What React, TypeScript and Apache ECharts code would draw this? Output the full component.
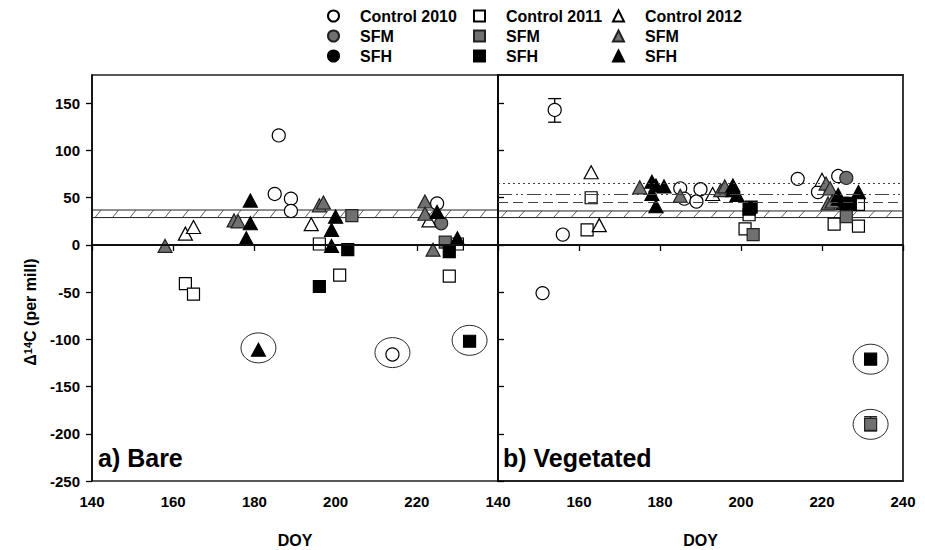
import React, { useEffect, useRef } from 'react';
import * as echarts from 'echarts';

// ---------- axis ticks ----------
const yTicks = [-250, -200, -150, -100, -50, 0, 50, 100, 150];
const xTicksBare = [140, 160, 180, 200, 220];
const xTicksVeg = [140, 160, 180, 200, 220, 240];

// ---------- a) Bare : [DOY, Δ14C] ----------
const bareControl2010 = [[186, 116], [185, 54], [189, 49], [189, 36], [225, 44], [214, -116]];
const bareSFM2010 = [[226, 23]];
const bareSFH2010: number[][] = [];
const bareControl2011 = [[163, -41], [165, -52], [196, 1], [201, -32], [228, -33], [230, 1]];
const bareSFM2011 = [[204, 31], [227, 3]];
const bareSFH2011 = [[196, -44], [203, -5], [228, -7], [233, -102]];
const bareControl2012 = [[163, 12], [165, 19], [194, 22], [223, 26]];
const bareSFM2012 = [[158, -1], [175, 26], [176, 25], [196, 42], [197, 45], [222, 46], [222, 33], [224, -5]];
const bareSFH2012 = [[179, 47], [179, 23], [178, 7], [200, 30], [199, 16], [199, -1], [225, 35], [230, 7], [181, -111]];

// ---------- b) Vegetated ----------
const vegControl2010 = [[154, 143], [156, 11], [151, -51], [185, 60], [186, 49], [189, 46], [190, 59], [214, 70], [219, 56], [224, 73]];
const vegSFM2010 = [[226, 71]];
const vegSFH2010: number[][] = [];
const vegControl2011 = [[163, 50], [162, 16], [202, 32], [201, 17], [223, 22], [229, 43], [229, 20]];
const vegSFM2011 = [[203, 11], [226, 30], [232, -190]];
const vegSFH2011 = [[202.5, 40], [202, 38], [225, 44], [227, 44], [232, -121]];
const vegControl2012 = [[163, 77], [165, 21], [193, 54], [220, 69]];
const vegSFM2012 = [[175, 61], [185, 52], [195, 58], [196, 62], [221, 65], [222, 60], [221.5, 44], [222.5, 46]];
const vegSFH2012 = [[178, 67], [179, 63], [181, 62], [178, 54], [179, 41], [198, 63], [198, 58], [199, 53], [224, 53], [224, 49], [229, 56]];

// error bars [DOY, low, high]
const vegErrorBars = [[154, 130, 155], [232, -197, -182], [232, -125, -118]];
// circled outliers
const bareCircled = [[181, -109], [214, -114], [233, -101]];
const vegCircled = [[232, -121], [232, -190]];
// hatched reference bands [low, high]
const bareBand = [[29, 37]];
const vegBand = [[29, 36]];
// reference lines in vegetated panel: dotted, dash-dot-dot, dashed
const vegRefLines = [65, 54, 45];

const FONT = 'Arial, "Liberation Sans", Helvetica, sans-serif';
const WHITE = '#ffffff';
const GRAY = '#707070';
const BLACK = '#000000';

const cats = [
  { name: 'Control 2010', symbol: 'circle', fill: WHITE, bare: bareControl2010, veg: vegControl2010, legend: 0 },
  { name: 'SFM 2010', symbol: 'circle', fill: GRAY, bare: bareSFM2010, veg: vegSFM2010, legend: 0 },
  { name: 'SFH 2010', symbol: 'circle', fill: BLACK, bare: bareSFH2010, veg: vegSFH2010, legend: 0 },
  { name: 'Control 2011', symbol: 'rect', fill: WHITE, bare: bareControl2011, veg: vegControl2011, legend: 1 },
  { name: 'SFM 2011', symbol: 'rect', fill: GRAY, bare: bareSFM2011, veg: vegSFM2011, legend: 1 },
  { name: 'SFH 2011', symbol: 'rect', fill: BLACK, bare: bareSFH2011, veg: vegSFH2011, legend: 1 },
  { name: 'Control 2012', symbol: 'triangle', fill: WHITE, bare: bareControl2012, veg: vegControl2012, legend: 2 },
  { name: 'SFM 2012', symbol: 'triangle', fill: GRAY, bare: bareSFM2012, veg: vegSFM2012, legend: 2 },
  { name: 'SFH 2012', symbol: 'triangle', fill: BLACK, bare: bareSFH2012, veg: vegSFH2012, legend: 2 },
];

function symSize(s: string): number | number[] {
  if (s === 'circle') return 13;
  if (s === 'rect') return 12;
  return [14, 13];
}

function bandSeries(gridIdx: number, band: number[][]) {
  return {
    type: 'custom',
    xAxisIndex: gridIdx,
    yAxisIndex: gridIdx,
    silent: true,
    z: 1,
    data: band,
    renderItem: (params: any, api: any) => {
      const lo = api.value(0);
      const hi = api.value(1);
      const pTL = api.coord([140, hi]);
      const pBR = api.coord([240, lo]);
      const x0 = pTL[0] + 1, x1 = pBR[0] - 1;
      const yT = pTL[1], yB = pBR[1];
      const children: any[] = [
        { type: 'line', shape: { x1: x0, y1: yT, x2: x1, y2: yT }, style: { stroke: '#222', lineWidth: 1 } },
        { type: 'line', shape: { x1: x0, y1: yB, x2: x1, y2: yB }, style: { stroke: '#222', lineWidth: 1 } },
      ];
      for (let x = x0 + 2; x + 6 <= x1; x += 17.5) {
        children.push({ type: 'line', shape: { x1: x, y1: yB, x2: x + 6, y2: yT }, style: { stroke: '#333', lineWidth: 0.8 } });
      }
      return { type: 'group', children };
    },
  };
}

function ellipseSeries(gridIdx: number, pts: number[][]) {
  return {
    type: 'custom',
    xAxisIndex: gridIdx,
    yAxisIndex: gridIdx,
    silent: true,
    z: 2,
    data: pts,
    renderItem: (params: any, api: any) => {
      const p = api.coord([api.value(0), api.value(1)]);
      return { type: 'ellipse', shape: { cx: p[0], cy: p[1], rx: 17.5, ry: 15 }, style: { fill: 'none', stroke: '#111', lineWidth: 0.9 } };
    },
  };
}

function errorSeries(gridIdx: number, bars: number[][]) {
  return {
    type: 'custom',
    xAxisIndex: gridIdx,
    yAxisIndex: gridIdx,
    silent: true,
    z: 2,
    data: bars,
    renderItem: (params: any, api: any) => {
      const x = api.value(0);
      const lo = api.coord([x, api.value(1)]);
      const hi = api.coord([x, api.value(2)]);
      const st = { stroke: '#000', lineWidth: 1.3 };
      return {
        type: 'group',
        children: [
          { type: 'line', shape: { x1: lo[0], y1: lo[1], x2: hi[0], y2: hi[1] }, style: st },
          { type: 'line', shape: { x1: lo[0] - 6.5, y1: lo[1], x2: lo[0] + 6.5, y2: lo[1] }, style: st },
          { type: 'line', shape: { x1: hi[0] - 6.5, y1: hi[1], x2: hi[0] + 6.5, y2: hi[1] }, style: st },
        ],
      };
    },
  };
}

const axisLineStyle = { color: '#000', width: 1.5 };
const tickLabelStyle = { color: '#000', fontFamily: FONT, fontWeight: 'bold' as const, fontSize: 15 };

function buildOption() {
  const series: any[] = [];
  series.push(bandSeries(0, bareBand));
  series.push(bandSeries(1, vegBand));
  series.push(ellipseSeries(0, bareCircled));
  series.push(ellipseSeries(1, vegCircled));
  series.push(errorSeries(1, vegErrorBars));
  // zero lines
  [0, 1].forEach((g) => {
    series.push({
      type: 'line',
      xAxisIndex: g,
      yAxisIndex: g,
      data: [],
      silent: true,
      markLine: {
        silent: true,
        symbol: 'none',
        label: { show: false },
        lineStyle: { color: '#111', width: 2, type: 'solid' },
        data: [{ yAxis: 0 }],
      },
    });
  });
  // vegetated reference lines
  const refTypes: any[] = [[2, 3], [14, 4, 2, 3, 2, 4], [10, 5]];
  series.push({
    type: 'line',
    xAxisIndex: 1,
    yAxisIndex: 1,
    data: [],
    silent: true,
    markLine: {
      silent: true,
      symbol: 'none',
      label: { show: false },
      data: vegRefLines.map((v, i) => ({ yAxis: v, lineStyle: { color: '#444', width: 1, type: refTypes[i] } })),
    },
  });

  cats.forEach((c) => {
    [0, 1].forEach((g) => {
      series.push({
        name: c.name,
        type: 'scatter',
        xAxisIndex: g,
        yAxisIndex: g,
        symbol: c.symbol,
        symbolSize: symSize(c.symbol),
        z: 3,
        itemStyle: { color: c.fill, borderColor: c.fill === GRAY ? '#222' : '#000', borderWidth: 1.2, opacity: 1 },
        data: g === 0 ? c.bare : c.veg,
      });
    });
  });

  const legendLefts = [322, 468, 607];
  const legends = [0, 1, 2].map((li) => ({
    orient: 'vertical',
    left: legendLefts[li],
    top: 3,
    itemWidth: 11,
    itemHeight: 11,
    itemGap: 4,
    selectedMode: false,
    data: cats.filter((c) => c.legend === li).map((c) => c.name),
    formatter: (n: string) => (n.startsWith('Control') ? n : n.split(' ')[0]),
    textStyle: { color: '#000', fontFamily: FONT, fontWeight: 'bold', fontSize: 16, padding: [0, 0, 0, 16] },
  }));

  const nameStyle = { color: '#000', fontFamily: FONT, fontWeight: 'bold' as const, fontSize: 16, lineHeight: 16 };

  return {
    animation: false,
    backgroundColor: '#fff',
    legend: legends,
    grid: [
      { left: 92, right: 427, top: 75, bottom: 69, outerBoundsMode: 'none', containLabel: false, show: true, borderColor: '#222', borderWidth: 1.5, backgroundColor: 'transparent' },
      { left: 498, right: 22, top: 75, bottom: 69, outerBoundsMode: 'none', containLabel: false, show: true, borderColor: '#222', borderWidth: 1.8, backgroundColor: 'transparent' },
    ],
    xAxis: [
      {
        type: 'value', gridIndex: 0, min: 140, max: 240, interval: 20,
        axisLine: { lineStyle: axisLineStyle },
        axisTick: { show: true, length: 6, customValues: xTicksBare, lineStyle: { color: '#000', width: 1.3 } },
        axisLabel: { ...tickLabelStyle, margin: 13, customValues: xTicksBare },
        splitLine: { show: false },
        name: 'DOY', nameLocation: 'middle', nameGap: 51,
        nameTextStyle: nameStyle,
      },
      {
        type: 'value', gridIndex: 1, min: 140, max: 240, interval: 20,
        axisLine: { lineStyle: axisLineStyle },
        axisTick: { show: true, length: 6, customValues: xTicksVeg, lineStyle: { color: '#000', width: 1.3 } },
        axisLabel: { ...tickLabelStyle, margin: 13, customValues: xTicksVeg },
        splitLine: { show: false },
        name: 'DOY', nameLocation: 'middle', nameGap: 51,
        nameTextStyle: nameStyle,
      },
    ],
    yAxis: [
      {
        type: 'value', gridIndex: 0, min: -250, max: 180, interval: 50,
        axisLine: { show: true, lineStyle: axisLineStyle },
        axisTick: { show: true, length: 6, customValues: yTicks, lineStyle: { color: '#000', width: 1.3 } },
        axisLabel: { ...tickLabelStyle, margin: 12, customValues: yTicks },
        splitLine: { show: false },
      },
      {
        type: 'value', gridIndex: 1, min: -250, max: 180, interval: 50,
        axisLine: { show: true, lineStyle: axisLineStyle },
        axisTick: { show: true, inside: true, length: 6, customValues: yTicks, lineStyle: { color: '#000', width: 1.3 } },
        axisLabel: { show: false },
        splitLine: { show: false },
      },
    ],
    graphic: [
      {
        type: 'text',
        x: 30,
        y: 312,
        rotation: Math.PI / 2,
        style: {
          text: '{d|Δ}{s|14}{d|C (per mill)}',
          align: 'center',
          verticalAlign: 'middle',
          fill: '#000',
          rich: {
            d: { fontFamily: FONT, fontWeight: 'bold', fontSize: 16, fill: '#000' },
            s: { fontFamily: FONT, fontWeight: 'bold', fontSize: 11, fill: '#000', verticalAlign: 'top' },
          },
        },
      },
      {
        type: 'text', left: 98, top: 445,
        style: { text: 'a) Bare', fill: '#000', fontFamily: FONT, fontWeight: 'bold', fontSize: 25 },
      },
      {
        type: 'text', left: 503, top: 445,
        style: { text: 'b) Vegetated', fill: '#000', fontFamily: FONT, fontWeight: 'bold', fontSize: 25 },
      },
    ],
    series,
  };
}

export default function App() {
  const ref = useRef<HTMLDivElement>(null);
  useEffect(() => {
    const chart = echarts.init(ref.current as HTMLDivElement, null, { renderer: 'svg' });
    chart.setOption(buildOption() as any);
    return () => chart.dispose();
  }, []);
  return <div ref={ref} style={{ position: 'fixed', left: 0, top: 0, width: 925, height: 550 }} />;
}
